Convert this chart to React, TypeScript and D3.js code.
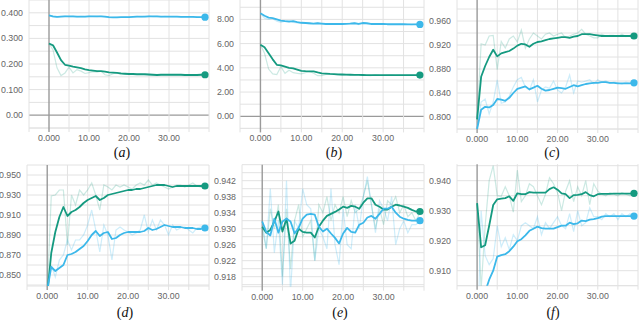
import React from "react";
import * as d3 from "d3";

// 40 training epochs, one value per epoch
const epochs = d3.range(40);

// (a) loss
const aGreen = [0.280,0.273,0.245,0.215,0.197,0.194,0.190,0.187,0.184,0.179,0.176,0.174,0.172,0.172,0.170,0.167,0.166,0.165,0.163,0.162,0.161,0.161,0.160,0.160,0.160,0.159,0.158,0.157,0.158,0.158,0.158,0.158,0.158,0.158,0.157,0.157,0.157,0.157,0.158,0.158];
const aGreenRaw = [0.280,0.255,0.185,0.155,0.165,0.188,0.165,0.178,0.172,0.163,0.166,0.170,0.168,0.172,0.158,0.155,0.162,0.165,0.158,0.160,0.161,0.160,0.159,0.161,0.158,0.157,0.158,0.156,0.159,0.158,0.158,0.157,0.158,0.157,0.156,0.157,0.158,0.157,0.157,0.158];
const aBlue = [0.390,0.386,0.384,0.385,0.386,0.386,0.386,0.385,0.385,0.385,0.386,0.386,0.386,0.386,0.385,0.383,0.382,0.382,0.383,0.383,0.383,0.384,0.385,0.385,0.385,0.386,0.386,0.386,0.385,0.385,0.385,0.385,0.385,0.384,0.384,0.384,0.384,0.383,0.383,0.383];
const aBlueRaw = [0.390,0.384,0.383,0.386,0.387,0.385,0.386,0.384,0.386,0.385,0.387,0.386,0.385,0.387,0.384,0.381,0.382,0.383,0.382,0.384,0.383,0.385,0.386,0.384,0.386,0.387,0.385,0.386,0.384,0.386,0.385,0.384,0.385,0.383,0.385,0.384,0.383,0.384,0.382,0.383];
const aTicks = [0, 0.1, 0.2, 0.3, 0.4];
const aTickLabels = ["0.00", "0.100", "0.200", "0.300", "0.400"];

// (b) loss (scaled)
const bGreen = [5.90,5.70,5.20,4.70,4.25,4.20,4.10,4.00,3.95,3.85,3.75,3.72,3.70,3.70,3.62,3.55,3.53,3.50,3.48,3.46,3.45,3.44,3.43,3.42,3.42,3.41,3.40,3.40,3.40,3.40,3.40,3.40,3.40,3.40,3.40,3.40,3.40,3.40,3.40,3.40];
const bGreenRaw = [5.90,5.20,3.90,3.50,3.45,4.10,3.55,3.80,3.60,3.55,3.50,3.60,3.70,3.55,3.35,3.35,3.45,3.50,3.45,3.40,3.42,3.40,3.43,3.38,3.40,3.41,3.38,3.35,3.45,3.40,3.38,3.40,3.42,3.38,3.40,3.37,3.40,3.39,3.41,3.40];
const bBlue = [8.50,8.30,8.15,8.10,8.00,7.90,7.85,7.82,7.85,7.78,7.72,7.70,7.68,7.65,7.68,7.65,7.62,7.62,7.63,7.62,7.62,7.63,7.65,7.68,7.62,7.70,7.68,7.62,7.62,7.62,7.62,7.60,7.60,7.60,7.60,7.60,7.58,7.58,7.58,7.58];
const bBlueRaw = [8.50,8.10,8.00,8.05,7.85,7.75,7.85,7.90,7.75,7.70,7.70,7.68,7.62,7.65,7.72,7.60,7.62,7.65,7.60,7.62,7.63,7.65,7.70,7.72,7.58,7.75,7.65,7.60,7.62,7.64,7.60,7.62,7.58,7.60,7.62,7.58,7.60,7.57,7.60,7.58];
const bTicks = [0, 2, 4, 6, 8];
const bTickLabels = ["0.00", "2.00", "4.00", "6.00", "8.00"];

// (c) accuracy
const cGreen = [0.796,0.867,0.885,0.900,0.912,0.901,0.906,0.908,0.910,0.914,0.919,0.922,0.921,0.917,0.922,0.925,0.926,0.928,0.930,0.931,0.932,0.933,0.933,0.932,0.934,0.935,0.938,0.938,0.938,0.937,0.936,0.935,0.935,0.935,0.935,0.935,0.935,0.935,0.935,0.935];
const cGreenRaw = [0.796,0.922,0.920,0.935,0.936,0.879,0.926,0.915,0.930,0.935,0.925,0.945,0.915,0.930,0.940,0.935,0.930,0.938,0.940,0.935,0.938,0.940,0.932,0.935,0.938,0.940,0.946,0.938,0.935,0.932,0.932,0.938,0.935,0.936,0.936,0.934,0.938,0.934,0.936,0.935];
const cBlue = [0.780,0.812,0.817,0.816,0.820,0.830,0.829,0.827,0.832,0.840,0.847,0.849,0.851,0.846,0.849,0.852,0.847,0.844,0.845,0.847,0.849,0.848,0.847,0.850,0.853,0.851,0.853,0.855,0.856,0.857,0.857,0.858,0.858,0.857,0.857,0.856,0.856,0.856,0.856,0.857];
const cBlueRaw = [0.780,0.825,0.830,0.805,0.825,0.862,0.823,0.825,0.835,0.850,0.862,0.866,0.850,0.845,0.862,0.825,0.845,0.850,0.848,0.860,0.845,0.840,0.850,0.870,0.840,0.860,0.858,0.860,0.862,0.855,0.862,0.858,0.860,0.856,0.858,0.857,0.855,0.858,0.856,0.857];
const cTicks = [0.8, 0.84, 0.88, 0.92, 0.96];
const cTickLabels = ["0.800", "0.840", "0.880", "0.920", "0.960"];

// (d) accuracy
const dGreen = [0.830,0.872,0.893,0.908,0.918,0.909,0.913,0.915,0.918,0.922,0.925,0.927,0.929,0.925,0.927,0.930,0.931,0.932,0.933,0.934,0.935,0.935,0.936,0.936,0.937,0.938,0.939,0.940,0.940,0.940,0.939,0.938,0.939,0.939,0.939,0.939,0.939,0.939,0.939,0.939];
const dGreenRaw = [0.830,0.929,0.930,0.935,0.935,0.880,0.930,0.920,0.935,0.930,0.935,0.942,0.930,0.915,0.940,0.938,0.935,0.940,0.938,0.940,0.938,0.936,0.940,0.942,0.940,0.945,0.940,0.942,0.940,0.938,0.936,0.938,0.940,0.940,0.938,0.940,0.942,0.939,0.938,0.940];
const dBlue = [0.835,0.858,0.854,0.857,0.860,0.870,0.871,0.873,0.876,0.879,0.884,0.890,0.894,0.889,0.892,0.893,0.886,0.887,0.890,0.892,0.893,0.893,0.893,0.893,0.894,0.897,0.895,0.896,0.898,0.900,0.899,0.898,0.898,0.898,0.897,0.897,0.897,0.896,0.896,0.897];
const dBlueRaw = [0.835,0.860,0.848,0.865,0.870,0.885,0.875,0.885,0.885,0.890,0.900,0.915,0.895,0.873,0.900,0.890,0.865,0.895,0.898,0.895,0.893,0.890,0.892,0.895,0.910,0.893,0.905,0.895,0.905,0.900,0.890,0.900,0.895,0.897,0.898,0.895,0.892,0.897,0.898,0.896];
const dTicks = [0.85, 0.87, 0.89, 0.91, 0.93, 0.95];
const dTickLabels = ["0.850", "0.870", "0.890", "0.910", "0.930", "0.950"];

// (e) accuracy
const eGreen = [0.9305,0.9290,0.9297,0.9318,0.9343,0.9293,0.9325,0.9263,0.9270,0.9300,0.9292,0.9290,0.9290,0.9278,0.9305,0.9320,0.9332,0.9337,0.9342,0.9348,0.9355,0.9352,0.9357,0.9355,0.9350,0.9365,0.9376,0.9376,0.9360,0.9355,0.9348,0.9348,0.9355,0.9360,0.9358,0.9355,0.9352,0.9347,0.9343,0.9343];
const eGreenRaw = [0.930,0.925,0.935,0.930,0.936,0.918,0.935,0.920,0.932,0.936,0.928,0.930,0.932,0.922,0.936,0.934,0.938,0.932,0.936,0.934,0.938,0.933,0.937,0.934,0.935,0.938,0.942,0.936,0.930,0.935,0.931,0.937,0.936,0.938,0.934,0.936,0.933,0.934,0.932,0.934];
const eBlue = [0.9318,0.9292,0.9283,0.9325,0.9290,0.9318,0.9325,0.9318,0.9288,0.9302,0.9325,0.9335,0.9337,0.9335,0.9305,0.9293,0.9300,0.9288,0.9277,0.9263,0.9288,0.9302,0.9292,0.9290,0.9310,0.9315,0.9328,0.9332,0.9325,0.9337,0.9350,0.9350,0.9355,0.9340,0.9330,0.9325,0.9322,0.9320,0.9320,0.9320];
const eBlueRaw = [0.932,0.925,0.940,0.924,0.932,0.916,0.942,0.914,0.932,0.930,0.940,0.936,0.935,0.922,0.930,0.928,0.925,0.940,0.926,0.921,0.935,0.926,0.925,0.936,0.930,0.938,0.943,0.936,0.929,0.937,0.935,0.932,0.938,0.926,0.930,0.932,0.929,0.931,0.931,0.932];
const eTicks = [0.918, 0.922, 0.926, 0.93, 0.934, 0.938, 0.942];
const eTickLabels = ["0.918", "0.922", "0.926", "0.930", "0.934", "0.938", "0.942"];

// (f) accuracy
const fGreen = [0.9325,0.9178,0.9185,0.9250,0.9319,0.9338,0.9340,0.9342,0.9348,0.9333,0.9358,0.9355,0.9355,0.9362,0.9360,0.9360,0.9360,0.9360,0.9372,0.9378,0.9370,0.9358,0.9355,0.9342,0.9352,0.9353,0.9355,0.9362,0.9352,0.9348,0.9355,0.9356,0.9356,0.9356,0.9357,0.9357,0.9357,0.9357,0.9357,0.9358];
const fGreenRaw = [0.9325,0.9040,0.9250,0.9400,0.9450,0.9350,0.9348,0.9380,0.9350,0.9295,0.9435,0.9330,0.9350,0.9390,0.9380,0.9350,0.9320,0.9355,0.9410,0.9390,0.9360,0.9300,0.9365,0.9400,0.9330,0.9380,0.9350,0.9400,0.9320,0.9390,0.9365,0.9355,0.9350,0.9360,0.9355,0.9350,0.9360,0.9355,0.9350,0.9360];
const fBlue = [0.880,0.895,0.903,0.907,0.910,0.9147,0.9152,0.9155,0.9165,0.9180,0.9198,0.9205,0.9218,0.9233,0.9240,0.9247,0.9242,0.9240,0.9240,0.9240,0.9245,0.9250,0.9250,0.9260,0.9255,0.9258,0.9267,0.9265,0.9270,0.9272,0.9275,0.9280,0.9282,0.9282,0.9282,0.9282,0.9282,0.9282,0.9282,0.9282];
const fBlueRaw = [0.880,0.930,0.915,0.912,0.914,0.925,0.918,0.921,0.917,0.922,0.920,0.925,0.926,0.925,0.924,0.928,0.922,0.926,0.924,0.926,0.928,0.925,0.924,0.929,0.923,0.930,0.925,0.926,0.931,0.928,0.928,0.927,0.929,0.928,0.929,0.927,0.929,0.928,0.929,0.928];
const fTicks = [0.91, 0.92, 0.93, 0.94];
const fTickLabels = ["0.910", "0.920", "0.930", "0.940"];

const xTicks = [0, 10, 20, 30];
const xTickLabels = ["0.000", "10.00", "20.00", "30.00"];

const GREEN = "#159a80";
const BLUE = "#3cb8ea";
const FONT = "'Liberation Sans', Arial, sans-serif";

const panels = [
  { id: "a", left: 29, right: 209, top: 0, bottom: 128, yDomain: [-0.05, 0.45], grid: 0.05, ticks: aTicks, labels: aTickLabels, green: aGreen, greenRaw: aGreenRaw, blue: aBlue, blueRaw: aBlueRaw, capX: 122 },
  { id: "b", left: 240, right: 424, top: 0, bottom: 128.4, yDomain: [-1, 9.6], grid: 1, ticks: bTicks, labels: bTickLabels, green: bGreen, greenRaw: bGreenRaw, blue: bBlue, blueRaw: bBlueRaw, capX: 334 },
  { id: "c", left: 457, right: 638, top: 0, bottom: 129, yDomain: [0.78, 0.995], grid: 0.02, ticks: cTicks, labels: cTickLabels, green: cGreen, greenRaw: cGreenRaw, blue: cBlue, blueRaw: cBlueRaw, capX: 552 },
  { id: "d", left: 27, right: 209, top: 165, bottom: 286, yDomain: [0.839, 0.96], grid: 0.01, ticks: dTicks, labels: dTickLabels, green: dGreen, greenRaw: dGreenRaw, blue: dBlue, blueRaw: dBlueRaw, capX: 125 },
  { id: "e", left: 242, right: 424, top: 164.7, bottom: 286.7, yDomain: [0.9155, 0.946], grid: 0.002, ticks: eTicks, labels: eTickLabels, green: eGreen, greenRaw: eGreenRaw, blue: eBlue, blueRaw: eBlueRaw, capX: 340 },
  { id: "f", left: 457, right: 638, top: 164.2, bottom: 285.7, yDomain: [0.905, 0.9455], grid: 0.005, ticks: fTicks, labels: fTickLabels, green: fGreen, greenRaw: fGreenRaw, blue: fBlue, blueRaw: fBlueRaw, capX: 553 },
];

const Panel = ({ p }) => {
  const x = d3.scaleLinear().domain([-5, 40]).range([p.left, p.right]);
  const y = d3.scaleLinear().domain(p.yDomain).range([p.bottom, p.top]);
  const line = d3
    .line()
    .x((d, i) => x(epochs[i]))
    .y((d) => y(d));

  // horizontal grid every half label step
  const k0 = Math.ceil(p.yDomain[0] / p.grid - 1e-6);
  const k1 = Math.floor(p.yDomain[1] / p.grid + 1e-6);
  const hGrid = d3.range(k0, k1 + 1).map((k) => k * p.grid);
  const vGrid = d3.range(-5, 41, 5);
  const clipId = "clip-" + p.id;
  const last = epochs.length - 1;
  const rowY = p.top > 100 ? 160 : 0;

  return (
    <g>
      <defs>
        <clipPath id={clipId}>
          <rect x={p.left} y={p.top} width={p.right - p.left} height={p.bottom - p.top} />
        </clipPath>
      </defs>
      {hGrid.map((v, i) => (
        <line key={"h" + i} x1={p.left} x2={p.right} y1={y(v)} y2={y(v)}
          stroke={Math.abs(v) < 1e-9 ? "#9a9a9a" : "#e2e2e2"} strokeWidth={Math.abs(v) < 1e-9 ? 1.3 : 1} />
      ))}
      <line x1={p.left} x2={p.right} y1={p.bottom} y2={p.bottom} stroke="#e2e2e2" />
      {vGrid.map((v) => (
        <line key={"v" + v} x1={x(v)} x2={x(v)} y1={p.top} y2={p.bottom + 4}
          stroke={v === 0 ? "#9a9a9a" : "#e2e2e2"} strokeWidth={v === 0 ? 1.4 : 1} />
      ))}
      {p.ticks.map((v, i) => (
        <text key={"yt" + i} x={p.left - 6} y={y(v)} dy="0.35em" textAnchor="end"
          fontSize={8.8} fill="#666" fontFamily={FONT}>{p.labels[i]}</text>
      ))}
      {xTicks.map((v, i) => (
        <text key={"xt" + i} x={x(v)} y={p.bottom + 10} dy="0.35em" textAnchor="middle"
          fontSize={8.8} fill="#666" fontFamily={FONT}>{xTickLabels[i]}</text>
      ))}
      <g clipPath={`url(#${clipId})`}>
        <path d={line(p.greenRaw)} fill="none" stroke={GREEN} strokeOpacity={0.22} strokeWidth={1.2} />
        <path d={line(p.blueRaw)} fill="none" stroke={BLUE} strokeOpacity={0.25} strokeWidth={1.2} />
        <path d={line(p.green)} fill="none" stroke={GREEN} strokeWidth={1.8} strokeLinejoin="round" />
        <path d={line(p.blue)} fill="none" stroke={BLUE} strokeWidth={1.8} strokeLinejoin="round" />
      </g>
      <circle cx={x(epochs[last])} cy={y(p.green[last])} r={3.6} fill={GREEN} />
      <circle cx={x(epochs[last])} cy={y(p.blue[last])} r={3.6} fill={BLUE} />
      <text x={p.capX} y={rowY + 157} textAnchor="middle" fontSize={14}
        fontFamily="'Liberation Serif', 'DejaVu Serif', serif" fill="#111">
        (<tspan fontStyle="italic">{p.id}</tspan>)
      </text>
    </g>
  );
};

export default function App() {
  return (
    <svg width={640} height={320} style={{ position: "absolute", left: 0, top: 0, background: "#fff" }}>
      {panels.map((p) => (
        <Panel key={p.id} p={p} />
      ))}
    </svg>
  );
}
